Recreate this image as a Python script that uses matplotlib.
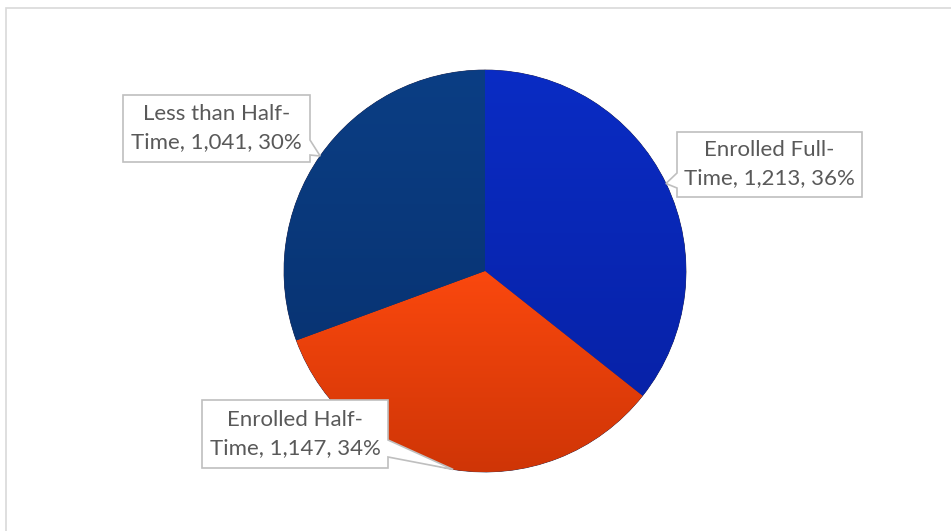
import matplotlib.pyplot as plt
import matplotlib.colors as mcolors
import numpy as np
from matplotlib.patches import Polygon, Rectangle

categories = ['Enrolled Full-Time', 'Enrolled Half-Time', 'Less than Half-Time']
counts = [1213, 1147, 1041]
label_lines = [('Enrolled Full-', 'Time, 1,213, 36%'),
               ('Enrolled Half-', 'Time, 1,147, 34%'),
               ('Less than Half-', 'Time, 1,041, 30%')]

# (top colour, bottom colour) for a light vertical shading of each slice
colors = [('#0A2CC4', '#0722A8'),
          ('#FA480E', '#CF3506'),
          ('#0B3E84', '#083474')]

W, H = 951, 531
fig = plt.figure(figsize=(W / 100, H / 100), dpi=100)
ax = fig.add_axes([0, 0, 1, 1])

# chart frame (only top/left visible in the picture)
ax.add_patch(Rectangle((6, -10), W + 20, H - 8 + 10, fill=False,
                       edgecolor='#d9d9d9', lw=1.2))

cx, cy, r = 485, H - 271, 201
wedges, _ = ax.pie(counts, startangle=90, counterclock=False, radius=r,
                   center=(cx, cy), frame=True,
                   wedgeprops=dict(edgecolor='#1a1a40', linewidth=0.5))

# vertical gradient over each wedge's own height, clipped to the wedge
grad = np.linspace(0, 1, 256)[:, None, None]
for w, (c_top, c_bot) in zip(wedges, colors):
    top = np.array(mcolors.to_rgb(c_top))
    bot = np.array(mcolors.to_rgb(c_bot))
    img = top[None, None, :] * (1 - grad) + bot[None, None, :] * grad
    img = np.repeat(img, 2, axis=1)
    w.set_facecolor(c_top)
    ext = w.get_path().get_extents(w.get_patch_transform())
    im = ax.imshow(img, extent=(ext.x0, ext.x1, ext.y0, ext.y1),
                   origin='upper', aspect='auto', zorder=w.get_zorder() + 0.1)
    im.set_clip_path(w)

ax.set_xlim(0, W)
ax.set_ylim(0, H)
ax.set_aspect('equal')
ax.axis('off')

# slice midpoints on the rim -> callout tips
total = sum(counts)
start = 90.0
tips = []
for c in counts:
    sweep = 360.0 * c / total
    mid = np.deg2rad(start - sweep / 2)
    tips.append((cx + r * np.cos(mid), cy + r * np.sin(mid)))
    start -= sweep

# label boxes in pixel coords (x0, y0, x1, y1) top-down, pointer side and notch
boxes = [((677, 132, 862, 197), 'left', (173, 188)),
         ((202, 400, 388, 468), 'right', (440, 457)),
         ((123, 95, 310, 162), 'right', (140, 155))]

for (rect, side, notch), tip, lines in zip(boxes, tips, label_lines):
    x0, y0, x1, y1 = rect
    Y0, Y1, N0, N1 = H - y0, H - y1, H - notch[0], H - notch[1]
    if side == 'left':
        pts = [(x0, Y0), (x1, Y0), (x1, Y1), (x0, Y1), (x0, N1), tip, (x0, N0)]
    else:
        pts = [(x0, Y0), (x1, Y0), (x1, N0), tip, (x1, N1), (x1, Y1), (x0, Y1)]
    ax.add_patch(Polygon(pts, closed=True, facecolor='white', edgecolor='#bfbfbf',
                         lw=1.2, zorder=5))
    xm = (x0 + x1) / 2
    ym = (Y0 + Y1) / 2
    ax.text(xm, ym + 14, lines[0], ha='center', va='center', fontsize=16,
            family='Lato', color='#595959', zorder=6)
    ax.text(xm, ym - 14, lines[1], ha='center', va='center', fontsize=16,
            family='Lato', color='#595959', zorder=6)

fig.savefig('out.png', dpi=100)
